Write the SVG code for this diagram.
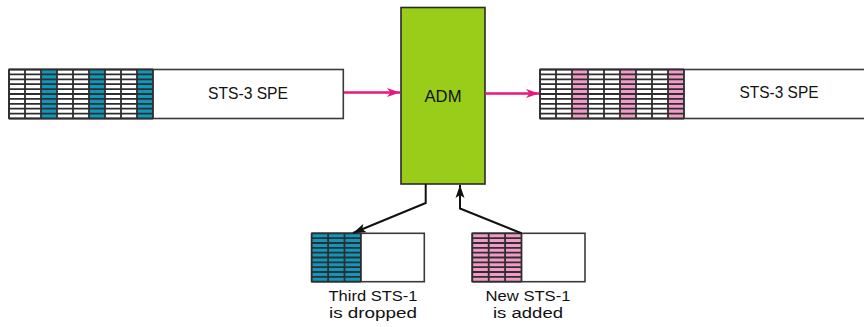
<svg xmlns="http://www.w3.org/2000/svg" xmlns:xlink="http://www.w3.org/1999/xlink" width="864" height="327" viewBox="0 0 864 327">
<style>
.frame{fill:#fff;stroke:#3a3a3a;stroke-width:1.6}
.grid{fill:none;stroke:#2e2e2e;stroke-width:1.8}
.teal{fill:#1197bb}
.pink{fill:#f19bc8}
.lbl{font-family:"Liberation Sans","Open Sans",sans-serif;font-size:16.5px;fill:#111;text-anchor:middle}
.sm{font-size:15.5px}
.pk{stroke:#e8177f;stroke-width:2.6;fill:none}
.bk{stroke:#111;stroke-width:2;fill:none}
</style>
<defs>
<marker id="ap" markerWidth="14" markerHeight="10" refX="13" refY="5" orient="auto" markerUnits="userSpaceOnUse">
<path d="M0,0.5 L13,5 L0,9.5 L3.5,5 z" fill="#e8177f"/>
</marker>
<marker id="ak" markerWidth="14" markerHeight="10" refX="13" refY="5" orient="auto" markerUnits="userSpaceOnUse">
<path d="M0,0.5 L13,5 L0,9.5 L3,5 z" fill="#111"/>
</marker>
<g id="g9">
<path class="grid" d="M0,0H144M0,4.9H144M0,9.8H144M0,14.7H144M0,19.6H144M0,24.5H144M0,29.4H144M0,34.3H144M0,39.2H144M0,44.1H144M0,49H144M0,0V49M16,0V49M32,0V49M48,0V49M64,0V49M80,0V49M96,0V49M112,0V49M128,0V49M144,0V49"/>
</g>
<g id="g3">
<path class="grid" d="M0,0H49.2M0,4.84H49.2M0,9.68H49.2M0,14.52H49.2M0,19.36H49.2M0,24.2H49.2M0,29.04H49.2M0,33.88H49.2M0,38.72H49.2M0,43.56H49.2M0,48.4H49.2M0,0V48.4M16.4,0V48.4M32.8,0V48.4M49.2,0V48.4"/>
</g>
</defs>

<g id="in-frame">
<rect class="frame" x="9" y="69.5" width="334.3" height="49"/>
<rect class="teal" x="41" y="69.5" width="16" height="49"/>
<rect class="teal" x="89" y="69.5" width="16" height="49"/>
<rect class="teal" x="137" y="69.5" width="16" height="49"/>
<use xlink:href="#g9" x="9" y="69.5"/>
<text class="lbl" x="248" y="99" textLength="80" lengthAdjust="spacingAndGlyphs">STS-3 SPE</text>
</g>

<g id="adm">
<rect x="401" y="7.5" width="84" height="176.5" fill="#9acd1a" stroke="#2a2a2a" stroke-width="1.6"/>
<text class="lbl" x="443" y="102" textLength="37" lengthAdjust="spacingAndGlyphs">ADM</text>
</g>

<g id="out-frame">
<rect class="frame" x="540" y="69.5" width="340" height="49"/>
<rect class="pink" x="572" y="69.5" width="16" height="49"/>
<rect class="pink" x="620" y="69.5" width="16" height="49"/>
<rect class="pink" x="668" y="69.5" width="16" height="49"/>
<use xlink:href="#g9" x="540" y="69.5"/>
<text class="lbl" x="779" y="98" textLength="79" lengthAdjust="spacingAndGlyphs">STS-3 SPE</text>
</g>

<g id="dropped">
<rect class="frame" x="311.7" y="233.3" width="112.6" height="48.4"/>
<rect class="teal" x="311.7" y="233.3" width="49.2" height="48.4"/>
<use xlink:href="#g3" x="311.7" y="233.3"/>
<text class="lbl sm" x="373" y="300.5" textLength="89" lengthAdjust="spacingAndGlyphs">Third STS-1</text>
<text class="lbl sm" x="373" y="318" textLength="88" lengthAdjust="spacingAndGlyphs">is dropped</text>
</g>

<g id="added">
<rect class="frame" x="472.3" y="233.3" width="112.7" height="48.4"/>
<rect class="pink" x="472.3" y="233.3" width="49.2" height="48.4"/>
<use xlink:href="#g3" x="472.3" y="233.3"/>
<text class="lbl sm" x="528" y="300.5" textLength="85" lengthAdjust="spacingAndGlyphs">New STS-1</text>
<text class="lbl sm" x="528" y="318" textLength="70" lengthAdjust="spacingAndGlyphs">is added</text>
</g>

<g id="connectors">
<path class="pk" d="M344,92.5 H400" marker-end="url(#ap)"/>
<path class="pk" d="M485,93.5 H539" marker-end="url(#ap)"/>
<path class="bk" d="M425.7,184 V203 L353,233" marker-end="url(#ak)"/>
<path class="bk" d="M521.5,233.3 L460,208.5 V185" marker-end="url(#ak)"/>
</g>
</svg>
